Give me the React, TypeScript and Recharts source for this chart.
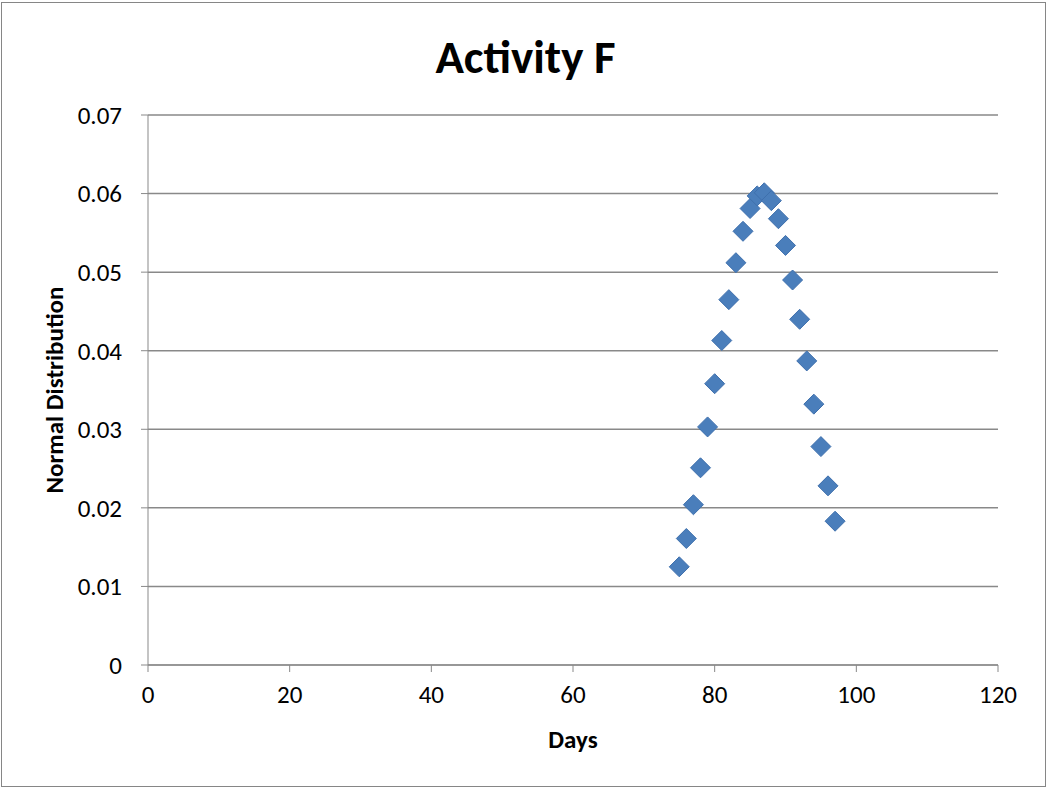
import { ScatterChart, Scatter, XAxis, YAxis, CartesianGrid, Label } from 'recharts';

const days = [75, 76, 77, 78, 79, 80, 81, 82, 83, 84, 85, 86, 87, 88, 89, 90, 91, 92, 93, 94, 95, 96, 97];
const normalDist = [
  0.0125, 0.0161, 0.0204, 0.0251, 0.0303, 0.0358, 0.0413, 0.0465, 0.0512, 0.0552, 0.0581, 0.0597,
  0.0601, 0.0591, 0.0568, 0.0534, 0.0490, 0.0440, 0.0387, 0.0332, 0.0278, 0.0228, 0.0183,
];
const xTicks = [0, 20, 40, 60, 80, 100, 120];
const yTicks = [0, 0.01, 0.02, 0.03, 0.04, 0.05, 0.06, 0.07];

const data = days.map((d, i) => ({ day: d, value: normalDist[i] }));

const FONT = "Carlito, Lato, 'Liberation Sans', sans-serif";

// rotated square marker like Excel's diamond
const Diamond = (props: any) => {
  const { cx, cy } = props;
  const r = 10;
  return (
    <path
      d={`M${cx},${cy - r}L${cx + r},${cy}L${cx},${cy + r}L${cx - r},${cy}Z`}
      fill="#4A7EBB"
      stroke="#3F70AD"
      strokeWidth={1}
    />
  );
};

export default function App() {
  return (
    <div style={{ position: 'absolute', left: 0, top: 0, width: 1047, height: 788, background: '#fff', fontFamily: FONT }}>
      <div style={{ position: 'absolute', left: 1, top: 2, width: 1043, height: 783, border: '1px solid #868686' }} />
      <div
        style={{
          position: 'absolute',
          left: 0,
          top: 28,
          width: 1047,
          textAlign: 'center',
          fontSize: 47,
          fontWeight: 'bold',
          lineHeight: '58px',
        }}
      >
        <span style={{ position: 'relative', left: 2 }}>Activity F</span>
      </div>
      <ScatterChart width={1047} height={788} margin={{ top: 115, right: 49, bottom: 28, left: 48 }} style={{ position: 'absolute', left: 0, top: 0 }}>
        <CartesianGrid horizontal={true} vertical={false} stroke="#898989" strokeWidth={1.5} />
        <XAxis
          type="number"
          dataKey="day"
          domain={[0, 120]}
          ticks={xTicks}
          interval={0}
          height={95}
          tickSize={7}
          tickMargin={13}
          stroke="#898989"
          tick={{ fill: '#000', fontSize: 25, fontFamily: FONT }}
        >
          <Label value="Days" position="insideBottom" offset={12} style={{ fill: '#000', fontSize: 25, fontWeight: 'bold', fontFamily: FONT }} />
        </XAxis>
        <YAxis
          type="number"
          dataKey="value"
          domain={[0, 0.07]}
          ticks={yTicks}
          interval={0}
          width={100}
          tickSize={7}
          tickMargin={19}
          stroke="#898989"
          tickFormatter={(v: number) => (v === 0 ? '0' : v.toFixed(2))}
          tick={{ fill: '#000', fontSize: 25, fontFamily: FONT }}
        >
          <Label
            value="Normal Distribution"
            angle={-90}
            position="insideLeft"
            offset={6}
            style={{ textAnchor: 'middle', fill: '#000', fontSize: 25, fontWeight: 'bold', fontFamily: FONT }}
          />
        </YAxis>
        <Scatter data={data} shape={Diamond} isAnimationActive={false} />
      </ScatterChart>
    </div>
  );
}
